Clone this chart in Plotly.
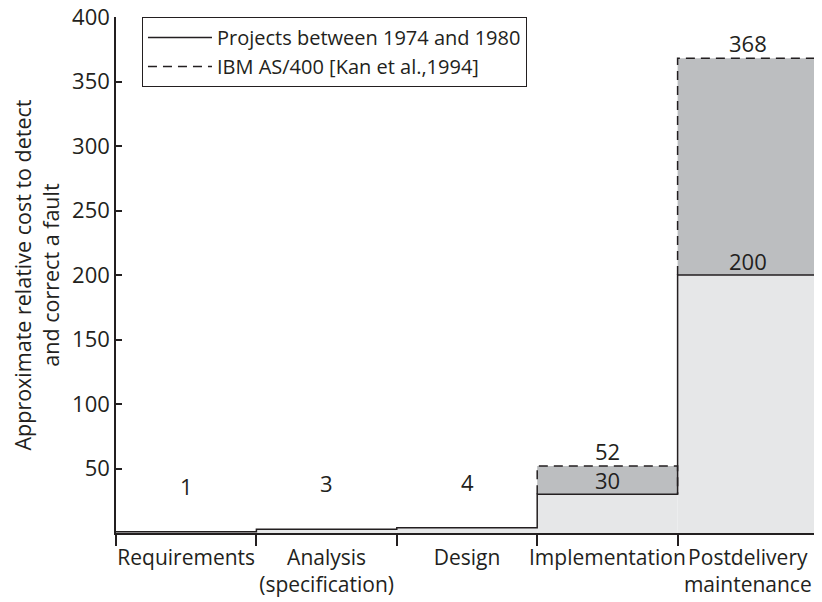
import plotly.graph_objects as go

categories = ["Requirements", "Analysis<br>(specification)", "Design",
              "Implementation", "Postdelivery<br>maintenance"]
projects_1974_1980 = [1, 3, 4, 30, 200]
ibm_as400 = [None, None, None, 52, 368]
y_ticks = [50, 100, 150, 200, 250, 300, 350, 400]

FONT = "Open Sans"
INK = "#231f20"
LIGHT = "#e6e7e8"
DARK = "#bcbec0"

n = len(categories)
centers = [i + 0.5 for i in range(n)]

fig = go.Figure()

# light fill: projects 1974-1980
fig.add_trace(go.Bar(x=centers, y=projects_1974_1980, width=1,
                     marker=dict(color=LIGHT, line=dict(width=0)),
                     showlegend=False, hoverinfo="skip"))
# dark band: IBM extra cost above projects
extra = [(b - a) if b is not None else None for a, b in zip(projects_1974_1980, ibm_as400)]
fig.add_trace(go.Bar(x=centers, y=extra, base=projects_1974_1980, width=1,
                     marker=dict(color=DARK, line=dict(width=0)),
                     showlegend=False, hoverinfo="skip"))

# dashed outline for IBM
dx, dy = [], []
for i, (a, b) in enumerate(zip(projects_1974_1980, ibm_as400)):
    if b is None:
        continue
    dx += [i, i, i + 1, i + 1, None]
    dy += [a, b, b, a, None]
fig.add_trace(go.Scatter(x=dx, y=dy, mode="lines", name="IBM AS/400 [Kan et al.,1994]",
                         line=dict(color=INK, width=1.5, dash="9px,6px"),
                         legendrank=2, hoverinfo="skip"))

# solid step outline for projects
sx, sy = [], []
for i, v in enumerate(projects_1974_1980):
    sx += [i, i + 1]
    sy += [v, v]
sx += [n]
sy += [0]
fig.add_trace(go.Scatter(x=sx, y=sy, mode="lines", name="Projects between 1974 and 1980",
                         line=dict(color=INK, width=1.5),
                         legendrank=1, hoverinfo="skip"))

# value labels
for i, (a, b) in enumerate(zip(projects_1974_1980, ibm_as400)):
    fig.add_annotation(x=centers[i], y=a, text=str(a), showarrow=False,
                       yanchor="bottom", yshift=(-3 if b is not None else 29),
                       font=dict(family=FONT, size=22, color=INK))
    if b is not None:
        fig.add_annotation(x=centers[i], y=b, text=str(b), showarrow=False,
                           yanchor="bottom", yshift=-2,
                           font=dict(family=FONT, size=22, color=INK))

fig.update_layout(
    width=814, height=594,
    margin=dict(l=108, r=4, t=9, b=69),
    paper_bgcolor="white", plot_bgcolor="white",
    font=dict(family=FONT, size=20, color=INK),
    barmode="overlay",
    legend=dict(x=0.037, y=1, xanchor="left", yanchor="top",
                bordercolor=INK, borderwidth=1, bgcolor="white",
                font=dict(family=FONT, size=20, color=INK),
                tracegroupgap=0, itemwidth=64),
    showlegend=True,
)
fig.update_xaxes(range=[0, n], tickmode="array", tickvals=centers, ticktext=categories,
                 ticks="", tickangle=0, ticklabelstandoff=5,
                 showline=True, linecolor=INK, linewidth=1.5,
                 showgrid=False, zeroline=False, automargin=False,
                 minor=dict(tickmode="array", tickvals=list(range(n + 1)),
                            ticks="outside", ticklen=11, tickwidth=1.5, tickcolor=INK,
                            showgrid=False),
                 tickfont=dict(family=FONT, size=21, color=INK))
fig.update_yaxes(range=[0, 400], tickmode="array", tickvals=y_ticks,
                 ticks="inside", ticklen=6, tickwidth=1.5, tickcolor=INK,
                 showline=True, linecolor=INK, linewidth=1.5,
                 showgrid=False, zeroline=False, automargin=False,
                 ticklabeloverflow="allow",
                 title=dict(text="Approximate relative cost to detect<br>and correct a fault",
                            font=dict(family=FONT, size=21.5, color=INK), standoff=16),
                 tickfont=dict(family=FONT, size=22, color=INK))

fig.write_html("out.html")
